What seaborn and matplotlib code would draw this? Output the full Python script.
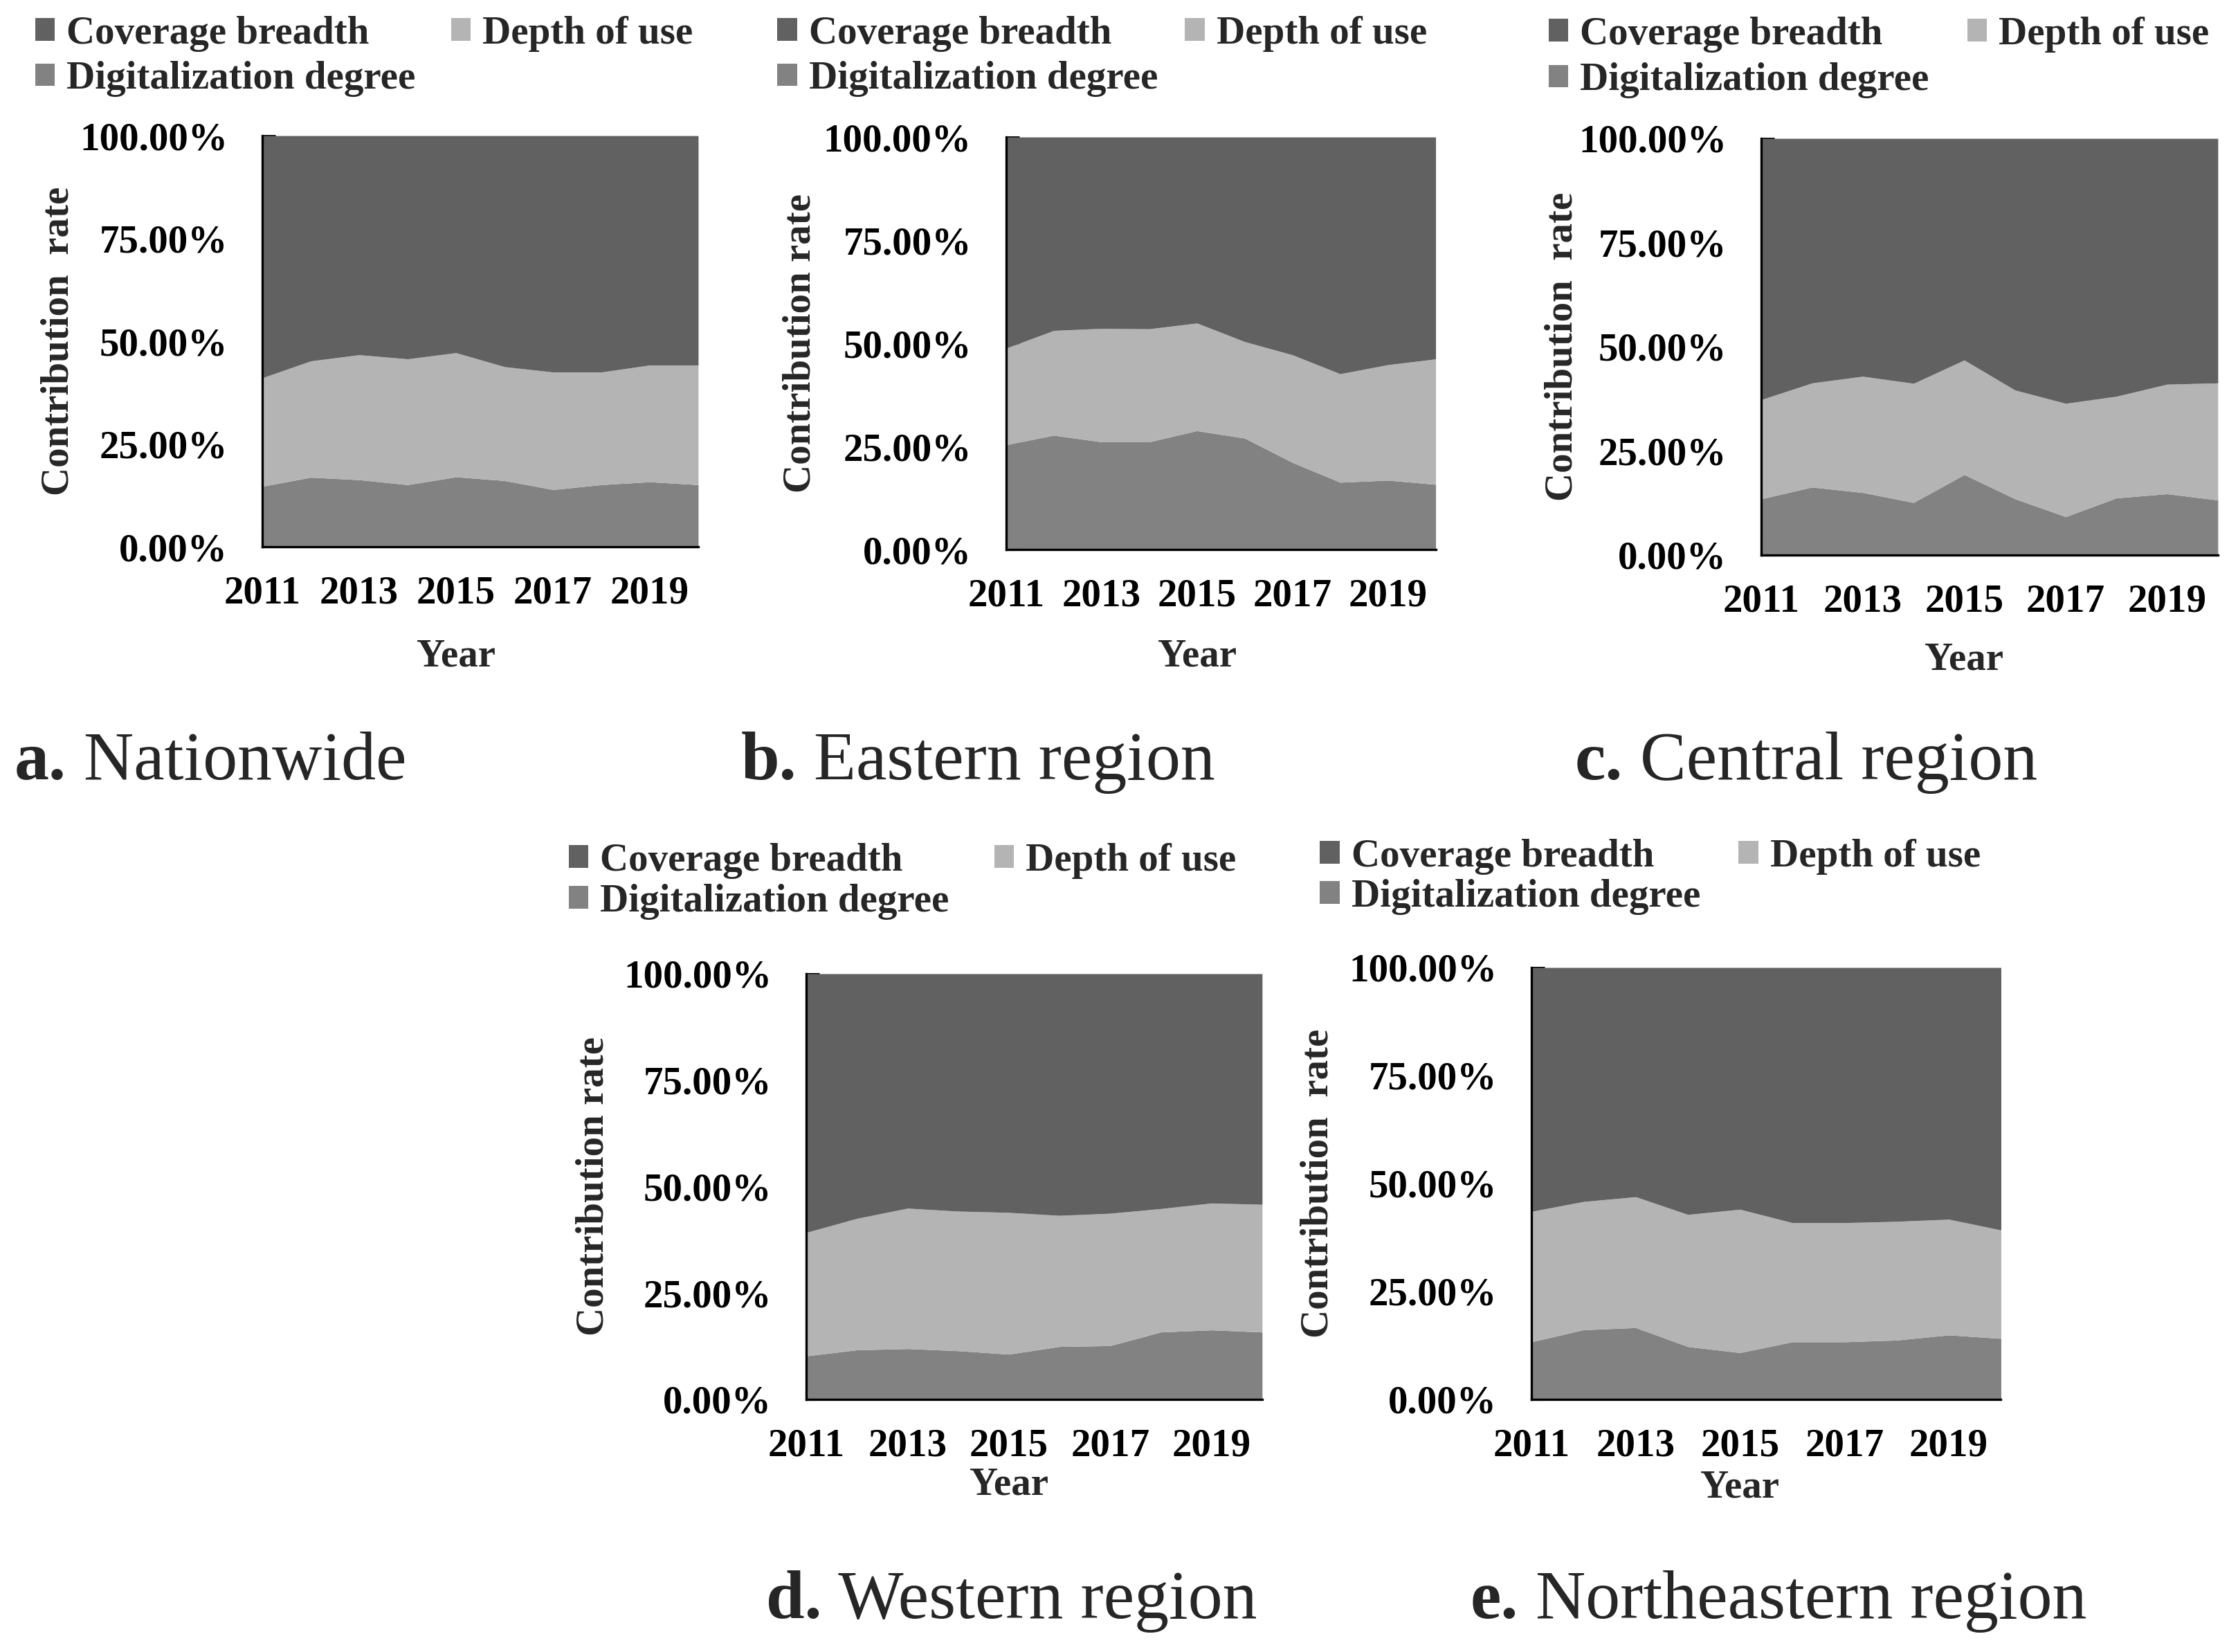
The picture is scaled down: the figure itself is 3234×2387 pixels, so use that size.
import numpy as np
import pandas as pd
import matplotlib
matplotlib.use("Agg")
import matplotlib.pyplot as plt
import seaborn as sns

# ---- data (shares in %) ----
years = [2011, 2012, 2013, 2014, 2015, 2016, 2017, 2018, 2019, 2020]
year_ticks = [2011, 2013, 2015, 2017, 2019]
series_names = ["Coverage breadth", "Depth of use", "Digitalization degree"]

nation_digital = [14.7, 16.9, 16.3, 15.1, 17.0, 16.1, 13.9, 15.1, 15.8, 15.1]
nation_depth = [26.4, 28.3, 30.4, 30.6, 30.2, 27.7, 28.6, 27.4, 28.4, 29.1]
nation_coverage = [58.9, 54.8, 53.3, 54.3, 52.8, 56.2, 57.5, 57.5, 55.8, 55.8]

east_digital = [25.4, 27.7, 26.1, 26.1, 28.8, 27.0, 21.1, 16.3, 16.8, 15.8]
east_depth = [23.4, 25.4, 27.5, 27.4, 26.1, 23.4, 26.1, 26.3, 28.0, 30.4]
east_coverage = [51.2, 46.9, 46.4, 46.5, 45.1, 49.6, 52.8, 57.4, 55.2, 53.8]

central_digital = [13.5, 16.3, 15.0, 12.6, 19.3, 13.5, 9.2, 13.7, 14.7, 13.2]
central_depth = [23.8, 25.0, 27.9, 28.6, 27.5, 26.1, 27.2, 24.4, 26.3, 28.1]
central_coverage = [62.7, 58.7, 57.1, 58.8, 53.2, 60.4, 63.6, 61.9, 59.0, 58.7]

west_digital = [10.2, 11.6, 11.9, 11.4, 10.6, 12.4, 12.6, 15.8, 16.3, 15.8]
west_depth = [29.0, 30.9, 33.0, 32.8, 33.3, 30.8, 31.1, 29.0, 29.8, 30.0]
west_coverage = [60.8, 57.5, 55.1, 55.8, 56.1, 56.8, 56.3, 55.2, 53.9, 54.2]

northeast_digital = [13.3, 16.1, 16.6, 12.2, 10.8, 13.3, 13.3, 13.7, 14.9, 14.1]
northeast_depth = [30.2, 29.7, 30.3, 30.6, 33.2, 27.6, 27.6, 27.5, 26.8, 25.1]
northeast_coverage = [56.5, 54.2, 53.1, 57.2, 56.0, 59.1, 59.1, 58.8, 58.3, 60.8]

panels = [
    ("a.", " Nationwide", "Contribution  rate", nation_digital, nation_depth, nation_coverage),
    ("b.", " Eastern region", "Contribution rate", east_digital, east_depth, east_coverage),
    ("c.", " Central region", "Contribution  rate", central_digital, central_depth, central_coverage),
    ("d.", " Western region", "Contribution rate", west_digital, west_depth, west_coverage),
    ("e.", " Northeastern region", "Contribution  rate", northeast_digital, northeast_depth, northeast_coverage),
]

# ---- layout, in reference pixels (scaled by S) ----
W, H = 3234, 2387
S = 0.995
boxes = [  # left, right, top, bottom
    (381, 1014, 197, 794),
    (1461, 2085, 199, 798),
    (2558, 3221, 201, 806),
    (1171, 1833, 1414, 2032),
    (2224, 2906, 1405, 2032),
]
legend_x = [51, 1129, 2249, 826, 1917]
legend_top = [23, 23, 24, 1224, 1218]
legend_gap = [0.23, 0.23, 0.25, 0.12, 0.1]
depth_col_x = [655, 1721, 2857, 1444, 2525]
ylabel_x = [85, 1162, 2269, 862, 1914]
year_y = [953, 953, 958, 2156, 2160]
caption_xy = [(21, 1132), (1076, 1132), (2287, 1132), (1113, 2350), (2135, 2350)]

colors = {"Coverage breadth": "#616161", "Depth of use": "#b4b4b4",
          "Digitalization degree": "#828282"}

sns.set_style("ticks")
plt.rcParams["font.family"] = ["Liberation Serif", "DejaVu Serif"]
plt.rcParams["font.weight"] = "bold"
FS = 41
CAP_FS = 72

fig = plt.figure(figsize=(W / 100, H / 100), dpi=100)


def fx(px):
    return px * S / W


def fy(py):
    return 1 - py * S / H


for i, (tag, name, ylab, dig, dep, cov) in enumerate(panels):
    l, r, t, b = [v * S for v in boxes[i]]
    ax = fig.add_axes([l / W, 1 - b / H, (r - l) / W, (b - t) / H])

    df = pd.DataFrame({"year": years, "Digitalization degree": dig,
                       "Depth of use": dep, "Coverage breadth": cov})
    df = df.set_index("year") / 100.0
    order = ["Digitalization degree", "Depth of use", "Coverage breadth"]
    polys = ax.stackplot(df.index, [df[c] for c in order],
                         colors=[colors[c] for c in order], labels=order, lw=0)
    handle = dict(zip(order, polys))

    ax.set_xlim(2011, 2020)
    ax.set_ylim(0, 1)
    ax.set_xticks(year_ticks)
    ax.set_yticks([0, 0.25, 0.5, 0.75, 1.0])
    ax.set_yticklabels([f"{v:.2%}" for v in [0, 0.25, 0.5, 0.75, 1.0]])
    ax.tick_params(axis="both", direction="in", length=14, width=2.2,
                   labelsize=FS, colors="black")
    ax.tick_params(axis="y", pad=36)
    ax.tick_params(axis="x", pad=30)
    for lab in ax.get_xticklabels() + ax.get_yticklabels():
        lab.set_fontweight("bold")
    sns.despine(ax=ax, top=True, right=True)
    for s in ["left", "bottom"]:
        ax.spines[s].set_linewidth(2.4)
        ax.spines[s].set_color("black")
        ax.spines[s].set_zorder(5)

    ax.set_ylabel(ylab, fontsize=FS, fontweight="bold")
    ax.yaxis.label.set_va("center")
    ax.yaxis.set_label_coords((ylabel_x[i] * S - l) / (r - l), 0.5)
    ax.set_xlabel("Year", fontsize=FS, fontweight="bold")
    ax.xaxis.label.set_va("center")
    ax.xaxis.set_label_coords(4 / 9, -(year_y[i] * S - b) / (b - t))

    # legend: left column (coverage, digitalization) and right column (depth)
    common = dict(loc="upper left", bbox_transform=fig.transFigure, frameon=False,
                  prop={"weight": "bold", "size": FS}, handlelength=0.5,
                  handleheight=0.5, handletextpad=0.3, labelspacing=legend_gap[i],
                  borderpad=0, borderaxespad=0)
    leg1 = ax.legend([handle["Coverage breadth"], handle["Digitalization degree"]],
                     ["Coverage breadth", "Digitalization degree"],
                     bbox_to_anchor=(fx(legend_x[i]), fy(legend_top[i])), **common)
    ax.add_artist(leg1)
    ax.legend([handle["Depth of use"]], ["Depth of use"],
              bbox_to_anchor=(fx(depth_col_x[i]), fy(legend_top[i])), **common)

    cx, cy = caption_xy[i]
    tt = fig.text(fx(cx), fy(cy), tag, fontsize=CAP_FS, fontweight="bold",
                  va="baseline", ha="left")
    ax.annotate(name, xy=(1, fy(cy)), xycoords=(tt, "figure fraction"),
                fontsize=CAP_FS, fontweight="normal", va="baseline", ha="left",
                annotation_clip=False)

fig.savefig("out.png", dpi=100, facecolor="white")
